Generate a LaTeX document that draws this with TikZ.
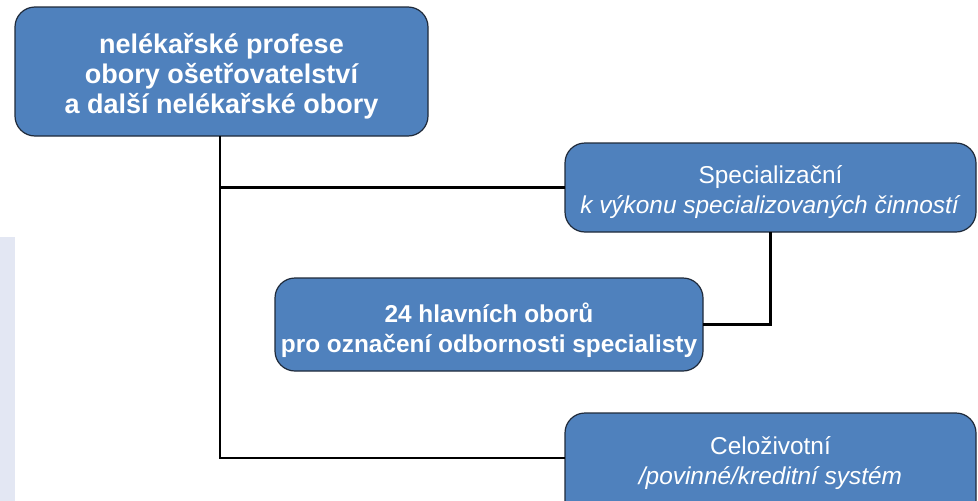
\documentclass[tikz,border=0pt]{standalone}
\usepackage{fontspec}
\setmainfont{Liberation Sans}
\definecolor{boxblue}{HTML}{4F81BD}
\definecolor{boxedge}{HTML}{1F2A3A}
\definecolor{strip}{HTML}{E3E7F3}
\tikzset{
  blbox/.style={draw=boxedge, line width=1.2pt, fill=boxblue, rounded corners=20pt},
  anchorbox/.style={inner sep=0pt, draw=none, fill=none},
  lbl/.style={text=white, align=center, inner sep=0pt},
  conn/.style={line width=2.6pt, black}
}
\begin{document}
\begin{tikzpicture}[x=1pt,y=-1pt]
\useasboundingbox (0,0) rectangle (978,501);
\fill[white] (0,0) rectangle (978,501);
\fill[strip] (0,237) rectangle (15,501);
% boxes
\path[blbox] (15,7) rectangle (428,136);
\node[anchorbox, minimum width=413pt, minimum height=129pt] (top) at (221.5,71.5) {};
\node[lbl, font=\fontsize{27}{30}\selectfont\bfseries] (t1) at (221.5,76.5) {nelékařské profese\\obory ošetřovatelství\\a další nelékařské obory};

\path[blbox] (565,143) rectangle (976,232);
\node[anchorbox, minimum width=411pt, minimum height=89pt] (spec) at (770.5,187.5) {};
\node[lbl, font=\fontsize{24.4}{30}\selectfont] (t2) at (770.5,192.5) {Specializační\\\textit{k výkonu specializovaných činností}};

\path[blbox] (275,278) rectangle (703,371);
\node[anchorbox, minimum width=428pt, minimum height=93pt] (main) at (489,324.5) {};
\node[lbl, font=\fontsize{24.4}{30}\selectfont\bfseries] (t3) at (489,330) {24 hlavních oborů\\pro označení odbornosti specialisty};

\path[blbox] (565,413) rectangle (976,520);
\node[anchorbox, minimum width=411pt, minimum height=90pt] (celo) at (770.5,458) {};
\node[lbl, font=\fontsize{24.4}{30}\selectfont] (t4) at (770.5,463) {Celoživotní\\\textit{/povinné/kreditní systém}};

% connectors
\coordinate (j1) at (220,187.5);
\coordinate (j2) at (220,458);
\draw[conn] (top.south -| j1) -- (j2) -- (celo.west);
\draw[conn] (j1) -- (spec.west);
\draw[conn] (spec.south) |- (main.east);
\end{tikzpicture}
\end{document}
